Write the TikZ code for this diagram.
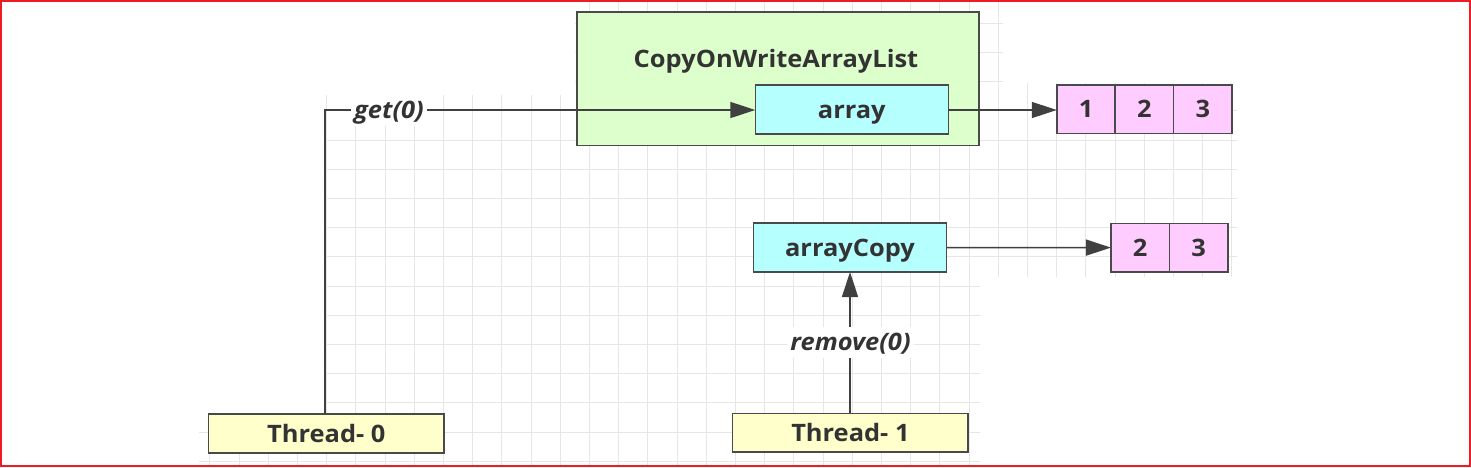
\documentclass[tikz,border=0pt]{standalone}
\usepackage{fontspec}
\setmainfont[FakeStretch=1.06]{Open Sans}
\usetikzlibrary{arrows.meta}
\definecolor{ln}{HTML}{404040}
\definecolor{bd}{HTML}{4A4A4A}
\definecolor{tx}{HTML}{333333}
\definecolor{cowfill}{HTML}{DDFFCC}
\definecolor{cyanfill}{HTML}{B5FFFF}
\definecolor{pinkfill}{HTML}{FFCCFF}
\definecolor{yelfill}{HTML}{FFFFCC}
\definecolor{gridc}{HTML}{E6E6E6}
\definecolor{framered}{HTML}{ED1C24}
\begin{document}
\begin{tikzpicture}[x=1pt,y=-1pt,
  txt/.style={font=\fontsize{24}{28}\selectfont\bfseries, text=tx, text height=22pt, text depth=5pt},
  box/.style={txt, draw=bd, line width=1.6pt, inner sep=0pt, outer sep=0pt},
  cowbox/.style={box, fill=cowfill, minimum width=402pt, minimum height=133.6pt},
  refbox/.style={box, fill=cyanfill, minimum width=193pt, minimum height=49pt},
  cell/.style={box, fill=pinkfill, minimum width=58.5pt, minimum height=48.5pt},
  thrbox/.style={box, fill=yelfill, minimum width=235.5pt, minimum height=38.7pt},
  conn/.style={draw=ln, line width=1.5pt, -{Triangle[length=25pt,width=16pt]}},
  lbl/.style={txt, fill=white, inner xsep=3pt, inner ysep=2pt, font=\fontsize{24}{28}\selectfont\bfseries\itshape},
  gridline/.style={draw=gridc, line width=1pt}
]
\useasboundingbox (0,0) rectangle (1471,467);
\fill[white] (0,0) rectangle (1471,467);

% background grid
\begin{scope}
\clip (575,0) rectangle (1003,95) (1003,83) rectangle (1237,95)
      (326,95) rectangle (1237,277) (326,277) rectangle (980,467)
      (199,415) rectangle (326,467);
\foreach \k in {-5,...,31} \draw[gridline] ({326.7+29.2*\k},0) -- ++(0,467);
\foreach \k in {-1,...,15} \draw[gridline] (0,{23.2+29.2*\k}) -- ++(1471,0);
\end{scope}

% nodes
\node[cowbox] (cow) at (778,78.5) {};
\node[txt] (cowtitle) at (776,58.5) {CopyOnWriteArrayList};
\node[refbox] (array) at (851.8,109.7) {array};
\node[cell] (a1) at (1086,109.2) {1};
\node[cell] (a2) at (1144.4,109.2) {2};
\node[cell] (a3) at (1202.8,109.2) {3};
\node[refbox] (copy) at (850,247.5) {arrayCopy};
\node[cell] (b2) at (1140.2,247.6) {2};
\node[cell] (b3) at (1198.6,247.6) {3};
\node[thrbox] (t0) at (326.3,433.5) {Thread- 0};
\node[thrbox] (t1) at (850.4,432.8) {Thread- 1};

% connectors
\coordinate (corner) at (325,110);
\draw[conn] (t0.north -| corner) -- (corner) -- (array.west |- corner);
\node[lbl] (getlbl) at (389,110) {get(0)};
\draw[conn] (array.east |- corner) -- (a1.west |- corner);
\draw[conn] (copy.east) -- (b2.west);
\draw[conn] (t1.north -| copy.south) -- (copy.south);
\node[lbl] (remlbl) at (850.5,342) {remove(0)};

% frame
\draw[framered, line width=2pt] (1,1) rectangle (1470,466);
\end{tikzpicture}
\end{document}
